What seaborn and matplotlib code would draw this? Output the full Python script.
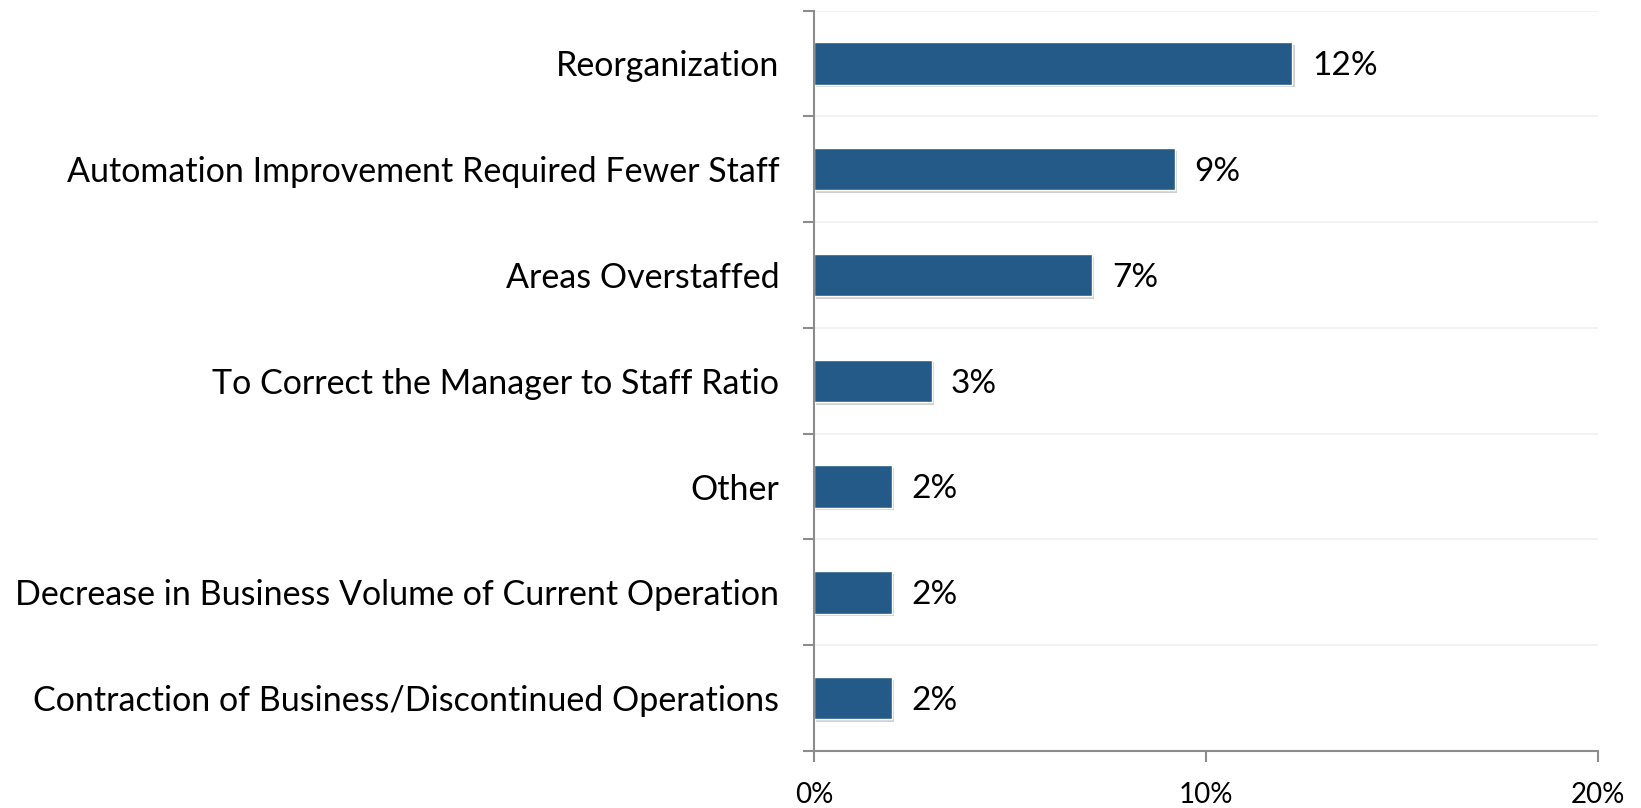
import matplotlib
matplotlib.use("Agg")
import matplotlib.pyplot as plt
import matplotlib.patheffects as pe
import seaborn as sns
import pandas as pd
import numpy as np

categories = [
    "Reorganization",
    "Automation Improvement Required Fewer Staff",
    "Areas Overstaffed",
    "To Correct the Manager to Staff Ratio",
    "Other",
    "Decrease in Business Volume of Current Operation",
    "Contraction of Business/Discontinued Operations",
]
values = [12.2, 9.2, 7.1, 3.0, 2.0, 2.0, 2.0]
value_labels = ["12%", "9%", "7%", "3%", "2%", "2%", "2%"]
x_ticks = [0, 10, 20]
x_tick_labels = ["0%", "10%", "20%"]

df = pd.DataFrame({"category": categories, "value": values})

sns.set_theme(style="white")
plt.rcParams["font.family"] = ["Lato", "DejaVu Sans"]

fig = plt.figure(figsize=(16.41, 8.08), dpi=100)
ax = fig.add_axes([0.496, 0.0705, 0.478, 0.9165])

sns.barplot(data=df, y="category", x="value", orient="h", color="#245a87",
            saturation=1, width=0.4, edgecolor="white", linewidth=1.0, ax=ax)

for p in ax.patches:
    p.set_path_effects([pe.SimplePatchShadow(offset=(1.5, -2), shadow_rgbFace="#000000", alpha=0.18),
                        pe.Normal()])

for i, (v, lab) in enumerate(zip(values, value_labels)):
    ax.annotate(lab, xy=(v, i), xytext=(14, -2), textcoords="offset points",
                ha="left", va="center", fontsize=24, color="black")

ax.set_xlim(0, 20)
ax.set_ylim(len(categories) - 0.5, -0.5)
ax.set_xticks(x_ticks)
ax.set_xticklabels(x_tick_labels, fontsize=20)
ax.set_yticks(range(len(categories)))
ax.set_yticklabels(categories, fontsize=24.5)
ax.set_xlabel("")
ax.set_ylabel("")

boundaries = np.arange(-0.5, len(categories) + 0.5, 1)
ax.set_yticks(boundaries, minor=True)
for b in boundaries[:-1]:
    ax.axhline(b, color="#f0f0f0", lw=1.2, zorder=0)

ax.tick_params(axis="y", which="major", length=0, pad=25, colors="black")
ax.tick_params(axis="y", which="minor", length=8, width=1.5, color="#8c8c8c", left=True)
ax.tick_params(axis="x", which="major", length=8, width=1.5, color="#8c8c8c",
               bottom=True, direction="out", pad=14)
for lab in ax.get_xticklabels():
    lab.set_color("black")

for s in ["top", "right"]:
    ax.spines[s].set_visible(False)
for s in ["left", "bottom"]:
    ax.spines[s].set_color("#8c8c8c")
    ax.spines[s].set_linewidth(1.5)

fig.savefig("out.png", dpi=100, facecolor="white")
